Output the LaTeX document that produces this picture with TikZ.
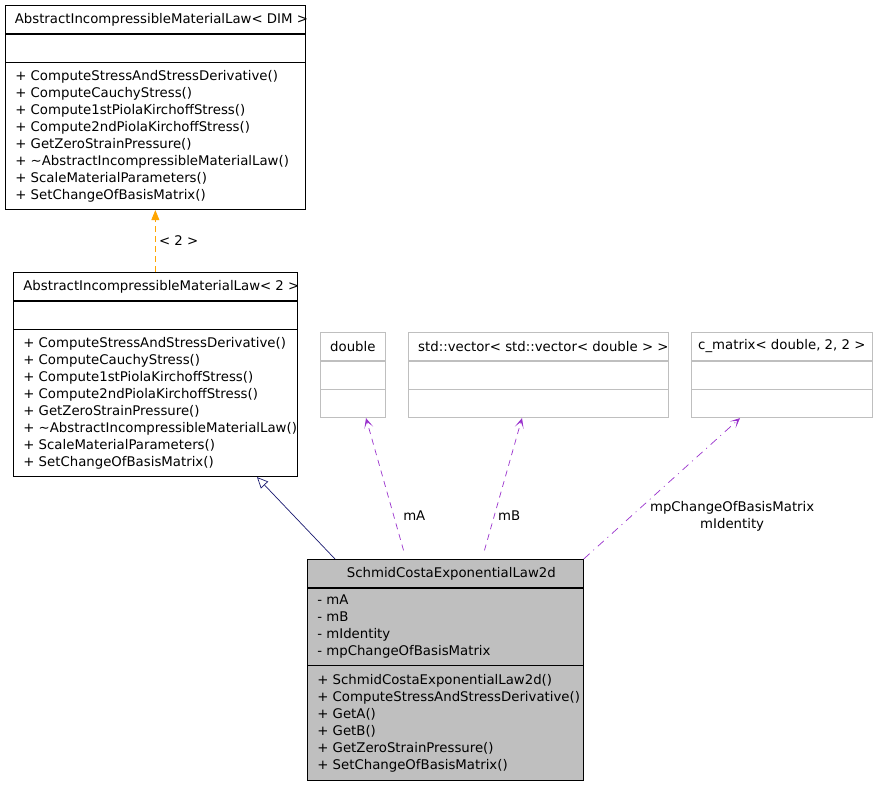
\documentclass[tikz,border=0pt]{standalone}
\usepackage{fontspec}
\setmainfont{DejaVu Sans}
\usetikzlibrary{arrows.meta,positioning}
\definecolor{midnight}{RGB}{25,25,112}
\definecolor{orchid}{RGB}{154,50,205}
\definecolor{amber}{RGB}{255,165,0}
\definecolor{shade}{RGB}{191,191,191}
\newcommand{\umlsize}{\fontsize{13.3}{17}\selectfont}
\newcommand{\comma}{,}

\begin{document}
\begin{tikzpicture}[x=1pt,y=-1pt,line width=0.7pt,font=\umlsize,
    box/.style={draw,anchor=north west,inner sep=0pt},
    gbox/.style={box,draw=shade},
    head/.style={inner sep=0pt,xshift=6pt},
    lines/.style={anchor=west,align=left,inner sep=0pt,xshift=10pt},
    usage/.style={draw=orchid,-{Stealth[length=10pt,width=9pt,inset=6pt]}}]
  \path[use as bounding box,fill=white] (0,0) rectangle (877,784);

  % base class template
  \node[box,minimum width=300pt,minimum height=28pt] (b1t) at (5,5) {};
  \node[box,minimum width=300pt,minimum height=28pt] (b1a) at (b1t.south west) {};
  \node[box,minimum width=300pt,minimum height=147pt] (b1m) at (b1a.south west) {};
  \node[head] (b1h) at (b1t.center) {AbstractIncompressibleMaterialLaw< DIM >};
  \node[lines] (b1l) at (b1m.west) {+ ComputeStressAndStressDerivative()\\+ ComputeCauchyStress()\\+ Compute1stPiolaKirchoffStress()\\+ Compute2ndPiolaKirchoffStress()\\+ GetZeroStrainPressure()\\+ \textasciitilde AbstractIncompressibleMaterialLaw()\\+ ScaleMaterialParameters()\\+ SetChangeOfBasisMatrix()};

  % instantiation for 2d
  \node[box,minimum width=284pt,minimum height=28pt] (b2t) at (13,272) {};
  \node[box,minimum width=284pt,minimum height=28pt] (b2a) at (b2t.south west) {};
  \node[box,minimum width=284pt,minimum height=147pt] (b2m) at (b2a.south west) {};
  \node[head] (b2h) at (b2t.center) {AbstractIncompressibleMaterialLaw< 2 >};
  \node[lines] (b2l) at (b2m.west) {+ ComputeStressAndStressDerivative()\\+ ComputeCauchyStress()\\+ Compute1stPiolaKirchoffStress()\\+ Compute2ndPiolaKirchoffStress()\\+ GetZeroStrainPressure()\\+ \textasciitilde AbstractIncompressibleMaterialLaw()\\+ ScaleMaterialParameters()\\+ SetChangeOfBasisMatrix()};

  % member types
  \foreach \x/\w/\s/\n/\t in {320/65/0/dbl/double,
      408/260/5/vec/std::vector< std::vector< double > >,
      691/181/0/cmat/c\_matrix< double\comma{} 2\comma{} 2 >}
  {
    \node[gbox,minimum width=\w pt,minimum height=28pt] (\n t) at (\x,332) {};
    \node[gbox,minimum width=\w pt,minimum height=28pt] (\n a) at (\n t.south west) {};
    \node[gbox,minimum width=\w pt,minimum height=28pt] (\n m) at (\n a.south west) {};
    \node[head,xshift=\s pt-6pt] (\n h) at (\n t.center) {\t};
  }

  % the class itself
  \node[box,fill=shade,minimum width=276pt,minimum height=28pt] (b3t) at (307,559) {};
  \node[box,fill=shade,minimum width=276pt,minimum height=77pt] (b3a) at (b3t.south west) {};
  \node[box,fill=shade,minimum width=276pt,minimum height=115pt] (b3m) at (b3a.south west) {};
  \node[head] (b3h) at (b3t.center) {SchmidCostaExponentialLaw2d};
  \node[lines] (b3al) at (b3a.west) {- mA\\- mB\\- mIdentity\\- mpChangeOfBasisMatrix};
  \node[lines] (b3ml) at (b3m.west) {+ SchmidCostaExponentialLaw2d()\\+ ComputeStressAndStressDerivative()\\+ GetA()\\+ GetB()\\+ GetZeroStrainPressure()\\+ SetChangeOfBasisMatrix()};

  % relations
  \draw[draw=amber,dash pattern=on 6pt off 4pt,-{Triangle[length=10pt,width=8pt]}] (b2t.north) -- (b1m.south)
    node[midway,right] {< 2 >};
  \draw[midnight,-{Triangle[open,length=11pt,width=10pt]}] ([xshift=28pt]b3t.north west) -- ([xshift=244pt]b2m.south west);
  \draw[usage,dash pattern=on 6pt off 5pt,shorten <=9pt] ([xshift=99pt]b3t.north west) -- ([xshift=46pt]dblm.south west)
    node[pos=0.31,right=6pt] {mA};
  \draw[usage,dash pattern=on 6pt off 5pt,shorten <=9pt] ([xshift=175pt]b3t.north west) -- ([xshift=114pt]vecm.south west)
    node[pos=0.31,right] {mB};
  \draw[usage,dash pattern=on 8pt off 5pt on 1pt off 5pt] (b3t.north east) -- ([xshift=49pt]cmatm.south west)
    node[pos=0.305,right=15pt,align=center] {mpChangeOfBasisMatrix\\mIdentity};
\end{tikzpicture}
\end{document}
